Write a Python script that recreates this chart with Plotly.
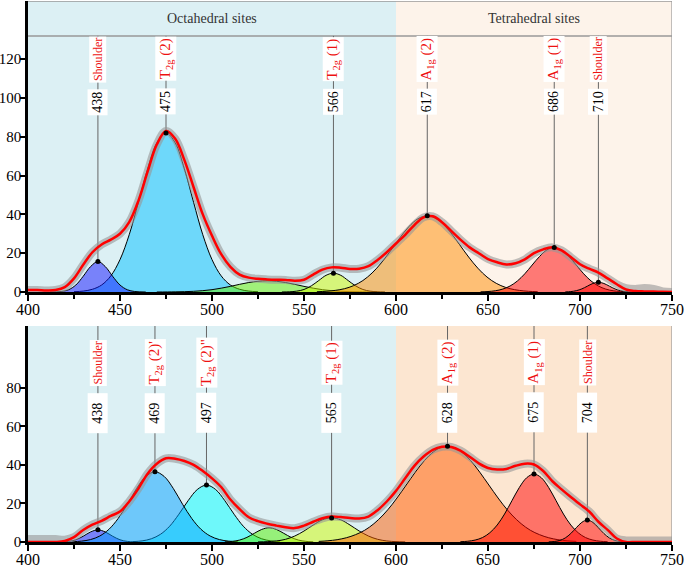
import plotly.graph_objects as go

FONT = "Liberation Serif"

# ---------------- data ----------------
NM = list(range(400, 755, 5))

TOP_FIT = [1.0, 1.0, 0.8, 1.0, 2.5, 7.0, 14.0, 20.5, 24.5, 27.0, 30.0, 36.0, 47.0, 62.0, 76.0,
           83.0, 79.0, 68.0, 54.0, 40.0, 29.0, 19.5, 13.0, 9.0, 7.4, 6.8, 6.5, 6.3, 6.2, 5.8,
           6.3, 9.0, 11.5, 12.7, 12.5, 11.9, 12.0, 13.3, 16.5, 20.5, 25.0, 29.5, 34.5, 38.5,
           39.0, 36.0, 31.5, 27.0, 23.0, 20.0, 17.0, 15.3, 14.2, 14.8, 16.8, 20.0, 22.0, 23.0,
           21.5, 18.0, 14.3, 12.0, 10.0, 7.0, 4.0, 1.3, 0.5, 0.3, 0.2, 0.1, 0.0]
TOP_MEAS = TOP_FIT[:64] + [4.0, 2.0, 1.6, 2.0, 1.6, 0.3, 0.0]

BOT_FIT = [0.0, 0.0, 0.0, 0.0, 0.5, 2.5, 6.2, 9.0, 11.0, 13.5, 15.8, 21.0, 27.7, 35.4, 40.6,
           43.4, 43.2, 42.0, 40.0, 36.8, 33.0, 28.5, 22.0, 17.0, 12.8, 10.8, 9.5, 8.5, 7.6, 7.2,
           8.5, 10.5, 12.3, 13.2, 12.9, 12.4, 12.2, 13.2, 16.5, 21.0, 26.5, 33.0, 39.5, 44.3,
           47.8, 49.4, 49.3, 47.4, 44.2, 40.8, 38.4, 37.6, 37.9, 39.5, 40.6, 40.2, 36.8, 31.5,
           27.3, 23.3, 19.5, 15.8, 10.5, 6.3, 1.8, 0.0, 0.0, 0.0, 0.0, 0.0, 0.0]
BOT_MEAS = [1.5, 1.5, 1.5, 1.5, 1.2] + BOT_FIT[5:65] + [0.8, 0.8, 0.8, 0.8, 0.8, 0.8]

# top-panel components (x positions, heights)
T_SH_X = [412, 418, 422, 426, 430, 434, 438, 442, 446, 450, 454, 458, 464]
T_SH_Y = [0, 0.26, 1.15, 3.6, 8.1, 13.1, 15.7, 13.1, 8.1, 3.6, 1.15, 0.26, 0]
T_T2_X = list(range(425, 530, 5))
T_T2_Y = [0.15, 0.47, 1.4, 3.6, 8.3, 16.7, 29.5, 46.2, 63.5, 76.9, 82.0, 76.9, 63.5, 46.2,
          29.5, 16.7, 8.3, 3.6, 1.4, 0.47, 0.15]
T_GR_X = list(range(470, 600, 10))
T_GR_Y = [0, 0.08, 0.36, 1.2, 2.9, 4.9, 5.8, 4.9, 2.9, 1.2, 0.36, 0.08, 0]
T_YG_X = list(range(538, 598, 4))
T_YG_Y = [0.02, 0.11, 0.43, 1.3, 3.2, 5.9, 8.6, 9.7, 8.6, 5.9, 3.2, 1.3, 0.43, 0.11, 0.02]
T_OR_X = list(range(557, 682, 5))
T_OR_Y = [0.15, 0.37, 0.83, 1.7, 3.3, 5.9, 9.8, 15.0, 21.2, 27.8, 33.7, 37.8, 39.3, 37.8,
          33.7, 27.8, 21.2, 15.0, 9.8, 5.9, 3.3, 1.7, 0.83, 0.37, 0.15]
T_RD_X = list(range(646, 730, 4))
T_RD_Y = [0.08, 0.25, 0.65, 1.5, 3.1, 5.7, 9.4, 13.9, 18.3, 21.7, 22.9, 21.7, 18.3, 13.9,
          9.4, 5.7, 3.1, 1.5, 0.65, 0.25, 0.08]
T_R2_X = list(range(692, 731, 3))
T_R2_Y = [0.05, 0.22, 0.68, 1.6, 3.0, 4.4, 5.0, 4.4, 3.0, 1.6, 0.68, 0.22, 0.05]

# bottom-panel components
B_SH_X = list(range(418, 462, 4))
B_SH_Y = [0.06, 0.3, 1.15, 3.0, 5.2, 6.3, 5.2, 3.0, 1.15, 0.3, 0.06]
B_A_X = list(range(424, 519, 5))
B_A_Y = [0.14, 0.45, 1.26, 3.1, 6.6, 12.2, 19.6, 27.7, 34.0, 36.4, 34.0, 27.7, 19.6, 12.2,
         6.6, 3.1, 1.26, 0.45, 0.14]
B_B_X = list(range(457, 542, 5))
B_B_Y = [0.18, 0.58, 1.66, 4.0, 8.2, 14.4, 21.4, 27.2, 29.5, 27.2, 21.4, 14.4, 8.2, 4.0,
         1.66, 0.58, 0.18]
B_GR_X = list(range(507, 559, 4))
B_GR_Y = [0.08, 0.33, 1.0, 2.4, 4.5, 6.5, 7.4, 6.5, 4.5, 2.4, 1.0, 0.33, 0.08]
B_YG_X = list(range(525, 610, 5))
B_YG_Y = [0.05, 0.18, 0.55, 1.4, 3.1, 5.7, 8.8, 11.5, 12.5, 11.5, 8.8, 5.7, 3.1, 1.4, 0.55,
          0.18, 0.05]
B_OR_X = list(range(558, 703, 5))
B_OR_Y = [0.31, 0.63, 1.2, 2.2, 3.8, 6.1, 9.5, 14.0, 19.6, 26.1, 32.9, 39.4, 44.8, 48.4,
          49.7, 48.4, 44.8, 39.4, 32.9, 26.1, 19.6, 14.0, 9.5, 6.1, 3.8, 2.2, 1.2, 0.63, 0.31]
B_RD_X = list(range(635, 719, 4))
B_RD_Y = [0.14, 0.39, 1.0, 2.3, 4.8, 8.8, 14.5, 21.4, 28.2, 33.3, 35.2, 33.3, 28.2, 21.4,
          14.5, 8.8, 4.8, 2.3, 1.0, 0.39, 0.14]
B_R2_X = list(range(683, 728, 3))
B_R2_Y = [0.06, 0.25, 0.8, 2.1, 4.4, 7.4, 10.2, 11.4, 10.2, 7.4, 4.4, 2.1, 0.8, 0.25, 0.06]

# labelled peaks
TOP_PEAK_NM = [438, 475, 566, 617, 686, 710]
TOP_PEAK_H = [15.7, 82.0, 9.7, 39.3, 22.9, 5.0]
TOP_NAMES = ["Shoulder", "T<sub>2g</sub> (2)", "T<sub>2g</sub> (1)", "A<sub>1g</sub> (2)",
             "A<sub>1g</sub> (1)", "Shoulder"]
BOT_PEAK_NM = [438, 469, 497, 565, 628, 675, 704]
BOT_PEAK_H = [6.3, 36.4, 29.5, 12.5, 49.7, 35.2, 11.4]
BOT_NAMES = ["Shoulder", "T<sub>2g</sub> (2)'", "T<sub>2g</sub> (2)\"", "T<sub>2g</sub> (1)",
             "A<sub>1g</sub> (2)", "A<sub>1g</sub> (1)", "Shoulder"]

X_TICKS = [400, 450, 500, 550, 600, 650, 700, 750]
TOP_Y_TICKS = [0, 20, 40, 60, 80, 100, 120]
BOT_Y_TICKS = [0, 20, 40, 60, 80]
REGIONS = ["Octahedral sites", "Tetrahedral sites"]

# ---------------- figure ----------------
fig = go.Figure()

def comp(x, y, color, xa, ya):
    fig.add_trace(go.Scatter(x=x, y=y, mode="lines", xaxis=xa, yaxis=ya,
                             line=dict(color="black", width=1, shape="spline"),
                             fill="tozeroy", fillcolor=color, showlegend=False,
                             hoverinfo="skip"))

def env(y_meas, y_fit, xa, ya):
    fig.add_trace(go.Scatter(x=NM, y=y_meas, mode="lines", xaxis=xa, yaxis=ya,
                             line=dict(color="rgba(150,150,150,0.6)", width=8, shape="spline"),
                             showlegend=False, hoverinfo="skip"))
    fig.add_trace(go.Scatter(x=NM, y=y_fit, mode="lines", xaxis=xa, yaxis=ya,
                             line=dict(color="#ff0000", width=2.5, shape="spline"),
                             showlegend=False, hoverinfo="skip"))

A = 0.5
# top
comp(T_T2_X, T_T2_Y, f"rgba(0,191,255,{A})", "x", "y")
comp(T_SH_X, T_SH_Y, f"rgba(20,20,255,{A})", "x", "y")
comp(T_GR_X, T_GR_Y, f"rgba(100,240,0,{A})", "x", "y")
comp(T_YG_X, T_YG_Y, f"rgba(208,250,0,{A})", "x", "y")
comp(T_OR_X, T_OR_Y, f"rgba(255,140,0,{A})", "x", "y")
comp(T_RD_X, T_RD_Y, f"rgba(255,0,0,{A})", "x", "y")
comp(T_R2_X, T_R2_Y, f"rgba(255,0,0,{A})", "x", "y")
env(TOP_MEAS, TOP_FIT, "x", "y")
fig.add_trace(go.Scatter(x=TOP_PEAK_NM, y=TOP_PEAK_H, mode="markers", xaxis="x", yaxis="y",
                         marker=dict(color="black", size=5), showlegend=False, hoverinfo="skip"))
# bottom
comp(B_SH_X, B_SH_Y, f"rgba(20,20,255,{A})", "x2", "y2")
comp(B_B_X, B_B_Y, f"rgba(0,255,255,{A})", "x2", "y2")
comp(B_A_X, B_A_Y, f"rgba(0,160,255,{A})", "x2", "y2")
comp(B_GR_X, B_GR_Y, f"rgba(80,240,0,{A})", "x2", "y2")
comp(B_YG_X, B_YG_Y, f"rgba(208,250,0,{A})", "x2", "y2")
comp(B_OR_X, B_OR_Y, f"rgba(255,90,0,{A})", "x2", "y2")
comp(B_RD_X, B_RD_Y, f"rgba(255,0,0,{A})", "x2", "y2")
comp(B_R2_X, B_R2_Y, f"rgba(255,0,0,{A})", "x2", "y2")
env(BOT_MEAS, BOT_FIT, "x2", "y2")
fig.add_trace(go.Scatter(x=BOT_PEAK_NM, y=BOT_PEAK_H, mode="markers", xaxis="x2", yaxis="y2",
                         marker=dict(color="black", size=5), showlegend=False, hoverinfo="skip"))

TOP_MAX, HEADER, BOT_MAX = 150, 132, 112
shapes = [
    dict(type="rect", xref="x", yref="y", x0=400, x1=600, y0=0, y1=TOP_MAX,
         fillcolor="#dcf0f4", line_width=0, layer="below"),
    dict(type="rect", xref="x", yref="y", x0=600, x1=750, y0=0, y1=TOP_MAX,
         fillcolor="#fdf3ea", line_width=0, layer="below"),
    dict(type="rect", xref="x2", yref="y2", x0=400, x1=600, y0=0, y1=BOT_MAX,
         fillcolor="#dcf0f4", line_width=0, layer="below"),
    dict(type="rect", xref="x2", yref="y2", x0=600, x1=750, y0=0, y1=BOT_MAX,
         fillcolor="#fce6d1", line_width=0, layer="below"),
    dict(type="line", xref="x", yref="y", x0=400, x1=750, y0=HEADER, y1=HEADER,
         line=dict(color="#999999", width=1.5), layer="below"),
    dict(type="line", xref="x", yref="y", x0=400, x1=750, y0=TOP_MAX, y1=TOP_MAX,
         line=dict(color="#999999", width=1.5), layer="below"),
    dict(type="line", xref="x", yref="y", x0=750, x1=750, y0=0, y1=TOP_MAX,
         line=dict(color="#999999", width=1.2), layer="below"),
    dict(type="line", xref="x2", yref="y2", x0=750, x1=750, y0=0, y1=BOT_MAX,
         line=dict(color="#999999", width=1.2), layer="below"),
]
for c, h in zip(TOP_PEAK_NM, TOP_PEAK_H):
    shapes.append(dict(type="line", xref="x", yref="y", x0=c, x1=c, y0=h, y1=HEADER,
                       line=dict(color="#666666", width=1), layer="below"))
for c, h in zip(BOT_PEAK_NM, BOT_PEAK_H):
    shapes.append(dict(type="line", xref="x2", yref="y2", x0=c, x1=c, y0=h, y1=BOT_MAX,
                       line=dict(color="#666666", width=1), layer="below"))

ann = []
def name_font(t):
    return dict(family=FONT, color="#ee1111", size=12 if t == "Shoulder" else 15)

for c, t in zip(TOP_PEAK_NM, TOP_NAMES):
    ann.append(dict(xref="x", yref="y", x=c, y=98, text=str(c), textangle=-90, showarrow=False,
                    font=dict(family=FONT, size=14, color="black"), bgcolor="white", borderpad=2))
    ann.append(dict(xref="x", yref="y", x=c, y=120, text=t, textangle=-90, showarrow=False,
                    font=name_font(t), bgcolor="white", borderpad=1))
for c, t in zip(BOT_PEAK_NM, BOT_NAMES):
    ann.append(dict(xref="x2", yref="y2", x=c, y=67, text="&nbsp;&nbsp;" + str(c) + "&nbsp;&nbsp;",
                    textangle=-90, showarrow=False,
                    font=dict(family=FONT, size=14, color="black"), bgcolor="white", borderpad=2))
    ann.append(dict(xref="x2", yref="y2", x=c, y=93, text=t, textangle=-90, showarrow=False,
                    font=name_font(t), bgcolor="white", borderpad=1))
ann.append(dict(xref="x", yref="y", x=500, y=141, text=REGIONS[0], showarrow=False,
                font=dict(family=FONT, size=14, color="#333333")))
ann.append(dict(xref="x", yref="y", x=675, y=141, text=REGIONS[1], showarrow=False,
                font=dict(family=FONT, size=14, color="#333333")))

xcommon = dict(range=[400, 750], tickvals=X_TICKS, ticks="outside", ticklen=6, tickwidth=1.5,
               tickcolor="black", showline=True, linewidth=2.5, linecolor="black",
               showgrid=False, zeroline=False, automargin=False, ticklabelstandoff=-5,
               minor=dict(dtick=25, ticks="outside", ticklen=4, tickwidth=1.5, tickcolor="black"),
               tickfont=dict(family=FONT, size=16, color="black"))
ycommon = dict(ticks="outside", ticklen=5, tickwidth=1.5, tickcolor="black", showline=True,
               linewidth=2.5, linecolor="black", showgrid=False, zeroline=False, automargin=False,
               ticklabelstandoff=-4,
               tickfont=dict(family=FONT, size=15, color="black"))

fig.update_layout(
    width=685, height=570,
    margin=dict(l=28, r=13, t=1, b=28),
    paper_bgcolor="white", plot_bgcolor="white",
    xaxis=dict(anchor="y", domain=[0, 1], **xcommon),
    yaxis=dict(anchor="x", domain=[0.4621, 1], range=[0, TOP_MAX], tickvals=TOP_Y_TICKS, **ycommon),
    xaxis2=dict(anchor="y2", domain=[0, 1], **xcommon),
    yaxis2=dict(anchor="x2", domain=[0, 0.3993], range=[0, BOT_MAX], tickvals=BOT_Y_TICKS, **ycommon),
    shapes=shapes, annotations=ann, showlegend=False,
)

fig.write_html("out.html", config={"displayModeBar": False},
               post_script="document.body.style.margin='0px';")
